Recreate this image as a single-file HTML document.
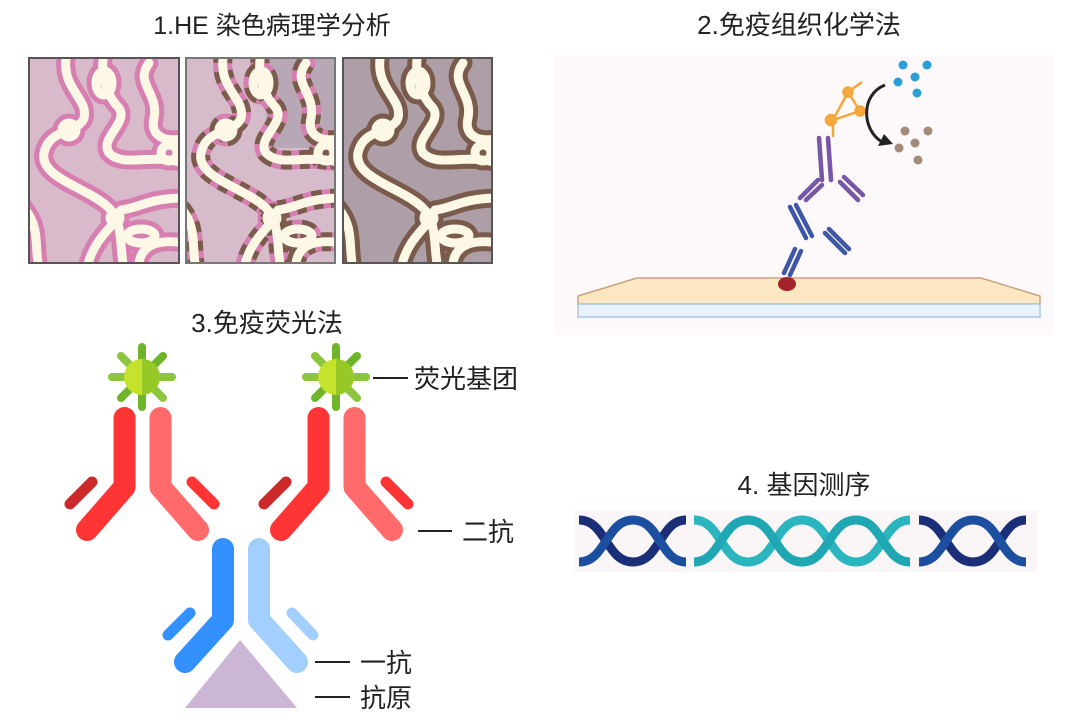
<!DOCTYPE html>
<html><head><meta charset="utf-8"><style>
html,body{margin:0;padding:0;background:#fff;}
svg{display:block;}
text{font-family:"Liberation Sans","Noto Sans CJK SC",sans-serif;fill:#222;}
</style></head><body>
<svg width="1080" height="717" viewBox="0 0 1080 717" xmlns="http://www.w3.org/2000/svg">
<defs>
<g id="ch">
<path d="M38,-5 C30,30 60,40 55,60 C50,75 20,70 15,95 C10,120 60,130 80,150 C95,165 90,190 95,210"/>
<path d="M75,-5 C70,20 80,40 90,50 C100,65 70,80 80,95 C95,110 120,95 155,105"/>
<path d="M120,5 C105,25 130,35 125,60 C120,80 140,85 155,80"/>
<path d="M-5,150 C12,170 5,190 10,210"/>
<path d="M92,152 C110,150 120,140 155,140"/>
<path d="M88,162 C70,180 62,192 58,210"/>
<path d="M110,205 C112,190 125,180 155,185"/>
<ellipse cx="75" cy="25" rx="8" ry="12"/>
<circle cx="40" cy="72" r="7"/>
<circle cx="140" cy="95" r="8"/>
<ellipse cx="112" cy="178" rx="14" ry="7"/>
<circle cx="86" cy="160" r="5"/>
</g>
<clipPath id="pc"><rect x="0" y="0" width="150" height="205"/></clipPath>
</defs>

<text x="272" y="34" font-size="25" text-anchor="middle">1.HE 染色病理学分析</text>
<text x="799" y="34" font-size="26" text-anchor="middle">2.免疫组织化学法</text>
<text x="267" y="332" font-size="26" text-anchor="middle">3.免疫荧光法</text>
<text x="804" y="494" font-size="26" text-anchor="middle">4. 基因测序</text>

<g transform="translate(29,58)" clip-path="url(#pc)">
<rect width="150" height="205" fill="#d8bacb"/>
<g fill="none" stroke="#d67fb0" stroke-width="19" stroke-linecap="round"><use href="#ch"/></g>
<g fill="none" stroke="#fdf8e6" stroke-width="9" stroke-linecap="round"><use href="#ch"/></g>
</g>
<rect x="29" y="58" width="150" height="205" fill="none" stroke="#555" stroke-width="2"/>
<g transform="translate(186,58)" clip-path="url(#pc)">
<rect width="150" height="205" fill="#d6bccb"/>
<rect x="80" width="70" height="90" fill="#b8a8b6"/>
<g fill="none" stroke="#d67fb0" stroke-width="19" stroke-linecap="round"><use href="#ch"/></g>
<g fill="none" stroke="#7b5b4c" stroke-width="19" stroke-dasharray="10 8" stroke-linecap="butt"><use href="#ch"/></g>
<g fill="none" stroke="#fdf8e6" stroke-width="9" stroke-linecap="round"><use href="#ch"/></g>
</g>
<rect x="186" y="58" width="149" height="205" fill="none" stroke="#777" stroke-width="2"/>
<g transform="translate(343,58)" clip-path="url(#pc)">
<rect width="150" height="205" fill="#ad9ea7"/>
<g fill="none" stroke="#7a5a4b" stroke-width="19" stroke-linecap="round"><use href="#ch"/></g>
<g fill="none" stroke="#fdf8e6" stroke-width="9" stroke-linecap="round"><use href="#ch"/></g>
</g>
<rect x="343" y="58" width="149" height="205" fill="none" stroke="#555" stroke-width="2"/>

<rect x="555" y="55" width="498" height="280" fill="#fdf8f9"/>
<polygon points="578,296 637,278 981,278 1040,296 1040,304 578,304" fill="#fbe8c3" stroke="#c9a27f" stroke-width="1.5"/>
<rect x="578" y="304" width="462" height="13" fill="#eaf3fd" stroke="#a9c7ea" stroke-width="1.5"/>
<ellipse cx="787" cy="284" rx="9" ry="7" fill="#a3242a"/>
<g fill="none" stroke="#3d56a6" stroke-width="4.5" stroke-linecap="round">
<path d="M784,273 L795,249"/><path d="M790,275 L801,251"/>
<path d="M790,207 L806,238 M796,205 L812,236"/>
<path d="M825,233 L845,253 M829,229 L849,249"/>
</g>
<g fill="none" stroke="#7656a6" stroke-width="4.5" stroke-linecap="round">
<path d="M819,138 L822,180 M828,138 L831,180"/>
<path d="M818,180 L800,198 M822,185 L806,200"/>
<path d="M844,177 L863,195 M840,182 L858,200"/>
</g>
<g stroke="#f5a53a" stroke-width="2.5" fill="#f7a93c">
<line x1="833" y1="120" x2="848" y2="92"/><line x1="848" y1="92" x2="862" y2="82"/>
<line x1="833" y1="120" x2="860" y2="111"/><line x1="848" y1="92" x2="860" y2="111"/>
<line x1="833" y1="120" x2="833" y2="137"/>
<circle cx="848" cy="92" r="4.5"/><circle cx="860" cy="111" r="4.5"/><circle cx="831" cy="120" r="5"/>
</g>
<path d="M885,85 C860,95 862,130 882,142" fill="none" stroke="#222" stroke-width="3"/>
<polygon points="878,146 893,144 884,134" fill="#222"/>
<g fill="#2a9fd6"><circle cx="903" cy="65" r="4.5"/><circle cx="927" cy="65" r="4.5"/><circle cx="915" cy="77" r="4.5"/><circle cx="898" cy="82" r="4.5"/><circle cx="917" cy="93" r="4.5"/></g>
<g fill="#a38b7c"><circle cx="905" cy="131" r="4.5"/><circle cx="928" cy="131" r="4.5"/><circle cx="915" cy="143" r="4.5"/><circle cx="899" cy="148" r="4.5"/><circle cx="918" cy="160" r="4.5"/></g>

<rect x="575" y="510" width="462" height="62" fill="#faf6f8"/>
<g fill="none" stroke-width="9">
<path d="M579,520 C606,520 606,562 633,562 S660,520 686,520" stroke="#1b2f78"/>
<path d="M579,562 C606,562 606,520 633,520 S660,562 686,562" stroke="#1d4fa0"/>
<path d="M694,520 C721,520 721,562 748,562 S775,520 802,520 S829,562 856,562 S883,520 910,520" stroke="#2bb6bf"/>
<path d="M694,562 C721,562 721,520 748,520 S775,562 802,562 S829,520 856,520 S883,562 910,562" stroke="#1fa7b4"/>
<path d="M919,520 C946,520 946,562 973,562 S1000,520 1026,520" stroke="#1b2f78"/>
<path d="M919,562 C946,562 946,520 973,520 S1000,562 1026,562" stroke="#1d4fa0"/>
</g>

<g id="ab2" stroke-linecap="round" fill="none">
<g stroke-width="8">
<line x1="142" y1="347" x2="142" y2="407" stroke="#6eb52a"/>
<line x1="112" y1="377" x2="172" y2="377" stroke="#8cc63f"/>
<line x1="121" y1="356" x2="163" y2="398" stroke="#8cc63f"/>
<line x1="163" y1="356" x2="121" y2="398" stroke="#6eb52a"/>
</g>
<circle cx="142" cy="377" r="18" fill="#c5e22c"/>
<path d="M142,359 A18,18 0 0 1 142,395 Z" fill="#96c828"/>
<path d="M124.5,418 L124.5,487 L87,530" stroke="#ff3535" stroke-width="22" stroke-linejoin="round"/>
<path d="M160.5,418 L160.5,487 L198,530" stroke="#ff6b6b" stroke-width="22" stroke-linejoin="round"/>
<line x1="92" y1="482" x2="70" y2="504" stroke="#cc2a2a" stroke-width="11"/>
<line x1="192" y1="482" x2="214" y2="504" stroke="#ff3535" stroke-width="11"/>
</g>
<use href="#ab2" transform="translate(194,0)"/>
<g stroke-linecap="round" fill="none">
<path d="M223,549 L223,620 L185,662" stroke="#3390ff" stroke-width="22" stroke-linejoin="round"/>
<path d="M259,549 L259,620 L297,662" stroke="#a3cfff" stroke-width="22" stroke-linejoin="round"/>
<line x1="190" y1="613" x2="168" y2="635" stroke="#3390ff" stroke-width="11"/>
<line x1="292" y1="613" x2="313" y2="635" stroke="#a3cfff" stroke-width="11"/>
</g>
<polygon points="240,640 297,708 185,708" fill="#cbb6d6"/>

<g stroke="#222" stroke-width="2">
<line x1="373" y1="378" x2="408" y2="378"/>
<line x1="418" y1="531" x2="452" y2="531"/>
<line x1="315" y1="662" x2="350" y2="662"/>
<line x1="315" y1="697" x2="350" y2="697"/>
</g>
<text x="414" y="388" font-size="26">荧光基团</text>
<text x="462" y="541" font-size="26">二抗</text>
<text x="360" y="672" font-size="26">一抗</text>
<text x="360" y="707" font-size="26">抗原</text>
</svg>
</body></html>
